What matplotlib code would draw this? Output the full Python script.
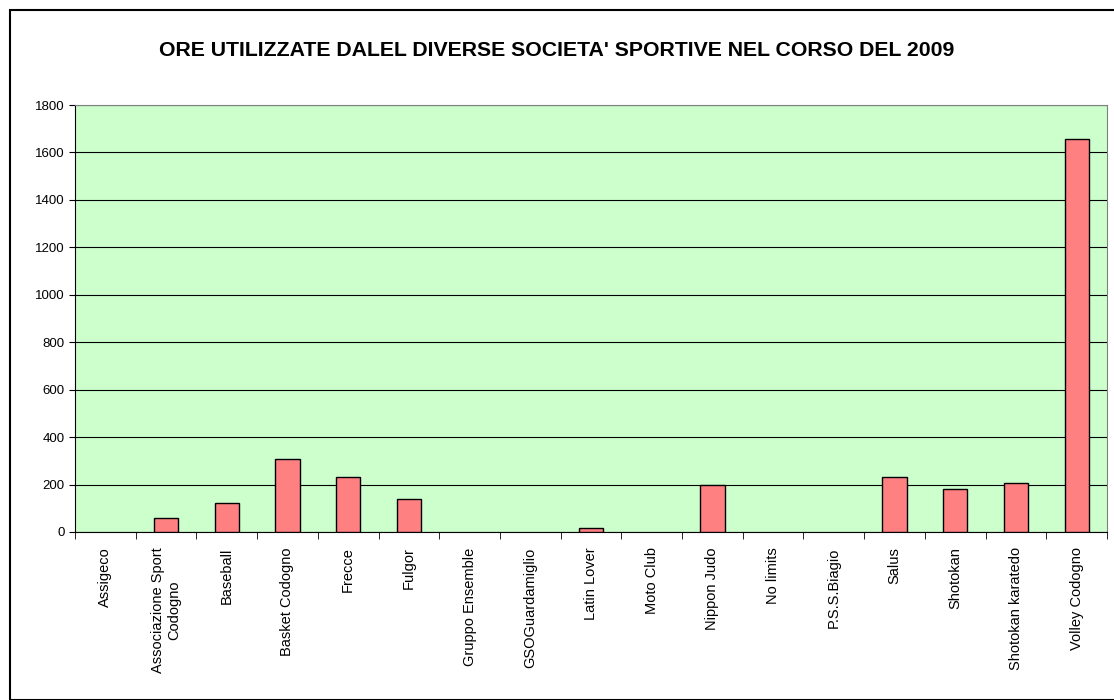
import matplotlib
matplotlib.use("Agg")
import matplotlib.pyplot as plt
from matplotlib.patches import Rectangle
import numpy as np

categories = ["Assigeco", "Associazione Sport\nCodogno", "Baseball", "Basket Codogno",
              "Frecce", "Fulgor", "Gruppo Ensemble", "GSOGuardamiglio", "Latin Lover",
              "Moto Club", "Nippon Judo", "No limits", "P.S.S.Biagio", "Salus",
              "Shotokan", "Shotokan karatedo", "Volley Codogno"]
values = [0, 60, 121, 308, 231, 139, 0, 0, 16, 0, 197, 0, 0, 233, 181, 208, 1658]
yticks = [0, 200, 400, 600, 800, 1000, 1200, 1400, 1600, 1800]
title = "ORE UTILIZZATE DALEL DIVERSE SOCIETA' SPORTIVE NEL CORSO DEL 2009"

plt.rcParams['font.family'] = ['Liberation Sans', 'DejaVu Sans']

fig = plt.figure(figsize=(11.14, 7.0), dpi=100)
fig.patches.append(Rectangle((10/1114, 0.0), 1.2, 1 - 10/700, transform=fig.transFigure,
                             fill=False, edgecolor='black', linewidth=1.5))

ax = fig.add_axes([75/1114, 1 - 532/700, (1107 - 75)/1114, (532 - 105)/700])
ax.set_facecolor('#CCFFCC')
x = np.arange(len(categories))
ax.set_axisbelow(True)
ax.yaxis.grid(True, color='black', linewidth=0.8)
lws = [1.0 if v > 0 else 0.0 for v in values]
ax.bar(x, values, width=0.4, color='#FF8080', edgecolor='black', linewidth=lws, zorder=3)

ax.set_xlim(-0.5, len(categories) - 0.5)
ax.set_ylim(0, 1800)
ax.set_yticks(yticks)
ax.set_yticklabels([str(v) for v in yticks], fontsize=9.5)
ax.set_xticks(x)
ax.set_xticklabels(categories, rotation=90, fontsize=10.5, ha='center', va='top',
                   multialignment='center')
ax.tick_params(axis='x', length=0, pad=11)
ax.set_xticks(np.arange(-0.5, len(categories), 1), minor=True)
ax.tick_params(axis='x', which='minor', length=5, color='black')
ax.tick_params(axis='y', length=4, color='black')
for s in ['top', 'right']:
    ax.spines[s].set_color('#808080')
ax.spines['left'].set_color('black')
ax.spines['bottom'].set_color('black')

fig.text(0.5, 1 - 50/700, title, ha='center', va='center', fontsize=15.3, fontweight='bold')

fig.savefig("out.png", dpi=100)
